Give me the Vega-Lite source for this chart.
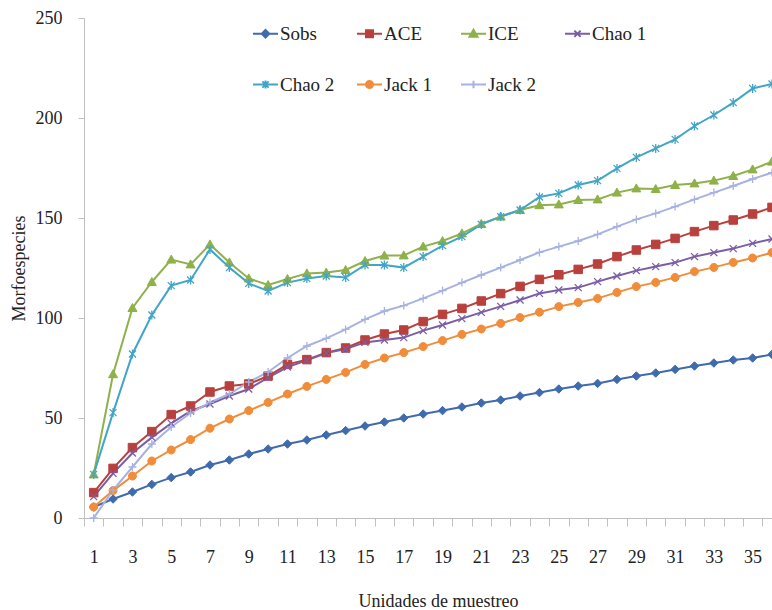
{
  "$schema": "https://vega.github.io/schema/vega-lite/v6.json",
  "autosize": {"type": "none"},
  "padding": {"left": 84, "top": 18, "right": 0, "bottom": 92},
  "width": 688,
  "height": 500,
  "background": "white",
  "config": {
    "view": {"stroke": null},
    "font": "Liberation Serif",
    "axis": {
      "grid": false,
      "domainColor": "#BFBFBF",
      "tickColor": "#BFBFBF",
      "labelFont": "Liberation Serif",
      "titleFont": "Liberation Serif",
      "labelFontSize": 18,
      "titleFontSize": 18,
      "titleFontWeight": "normal",
      "labelColor": "#222222",
      "titleColor": "#222222"
    }
  },
  "data": {
    "values": [
      {"u": 1, "Sobs": 5.5, "ACE": 12.7, "ICE": 21.8, "Chao 1": 10.7, "Chao 2": 21.8, "Jack 1": 5.5, "Jack 2": 0},
      {"u": 2, "Sobs": 9.5, "ACE": 24.8, "ICE": 71.9, "Chao 1": 22.3, "Chao 2": 52.7, "Jack 1": 13.7, "Jack 2": 14},
      {"u": 3, "Sobs": 13, "ACE": 35.2, "ICE": 105, "Chao 1": 32.5, "Chao 2": 82, "Jack 1": 21, "Jack 2": 25.5},
      {"u": 4, "Sobs": 16.8, "ACE": 43.2, "ICE": 118, "Chao 1": 40.3, "Chao 2": 101.5, "Jack 1": 28.5, "Jack 2": 37},
      {"u": 5, "Sobs": 20.2, "ACE": 51.7, "ICE": 129.2, "Chao 1": 47.3, "Chao 2": 116.2, "Jack 1": 34, "Jack 2": 45.5},
      {"u": 6, "Sobs": 23, "ACE": 56, "ICE": 126.8, "Chao 1": 53.5, "Chao 2": 119, "Jack 1": 39.2, "Jack 2": 52.5},
      {"u": 7, "Sobs": 26.5, "ACE": 63, "ICE": 136.8, "Chao 1": 57, "Chao 2": 134.3, "Jack 1": 44.9, "Jack 2": 57.8},
      {"u": 8, "Sobs": 29, "ACE": 66, "ICE": 127.8, "Chao 1": 61, "Chao 2": 125.2, "Jack 1": 49.5, "Jack 2": 62},
      {"u": 9, "Sobs": 32, "ACE": 67, "ICE": 119.8, "Chao 1": 64.5, "Chao 2": 117.3, "Jack 1": 53.7, "Jack 2": 68},
      {"u": 10, "Sobs": 34.5, "ACE": 71, "ICE": 116.5, "Chao 1": 70.2, "Chao 2": 113.5, "Jack 1": 57.8, "Jack 2": 73},
      {"u": 11, "Sobs": 37, "ACE": 76.8, "ICE": 119.5, "Chao 1": 75.5, "Chao 2": 117.7, "Jack 1": 62, "Jack 2": 80},
      {"u": 12, "Sobs": 39, "ACE": 79.2, "ICE": 122.3, "Chao 1": 78.8, "Chao 2": 119.7, "Jack 1": 65.8, "Jack 2": 86},
      {"u": 13, "Sobs": 41.5, "ACE": 82.7, "ICE": 122.7, "Chao 1": 82.5, "Chao 2": 121, "Jack 1": 69.3, "Jack 2": 89.8},
      {"u": 14, "Sobs": 43.7, "ACE": 85, "ICE": 124, "Chao 1": 84.5, "Chao 2": 120.3, "Jack 1": 72.8, "Jack 2": 94.3},
      {"u": 15, "Sobs": 46, "ACE": 89, "ICE": 128.5, "Chao 1": 87.8, "Chao 2": 126.5, "Jack 1": 76.8, "Jack 2": 99.3},
      {"u": 16, "Sobs": 48, "ACE": 92, "ICE": 131.2, "Chao 1": 89, "Chao 2": 126.5, "Jack 1": 80, "Jack 2": 103.5},
      {"u": 17, "Sobs": 50, "ACE": 94, "ICE": 131.3, "Chao 1": 90.2, "Chao 2": 125.2, "Jack 1": 82.7, "Jack 2": 106.2},
      {"u": 18, "Sobs": 52, "ACE": 98.2, "ICE": 135.7, "Chao 1": 93.7, "Chao 2": 130.7, "Jack 1": 85.7, "Jack 2": 109.8},
      {"u": 19, "Sobs": 53.7, "ACE": 101.8, "ICE": 138.5, "Chao 1": 96.5, "Chao 2": 136.2, "Jack 1": 88.7, "Jack 2": 113.7},
      {"u": 20, "Sobs": 55.5, "ACE": 104.8, "ICE": 142.3, "Chao 1": 99.7, "Chao 2": 140.7, "Jack 1": 91.8, "Jack 2": 117.7},
      {"u": 21, "Sobs": 57.5, "ACE": 108.5, "ICE": 147, "Chao 1": 102.8, "Chao 2": 146.8, "Jack 1": 94.5, "Jack 2": 121.5},
      {"u": 22, "Sobs": 59, "ACE": 112.2, "ICE": 150.7, "Chao 1": 105.8, "Chao 2": 150.7, "Jack 1": 97.3, "Jack 2": 125.2},
      {"u": 23, "Sobs": 61, "ACE": 115.8, "ICE": 154, "Chao 1": 109, "Chao 2": 154, "Jack 1": 100.2, "Jack 2": 129},
      {"u": 24, "Sobs": 62.7, "ACE": 119.3, "ICE": 156.4, "Chao 1": 112.3, "Chao 2": 160.5, "Jack 1": 102.9, "Jack 2": 132.8},
      {"u": 25, "Sobs": 64.5, "ACE": 121.6, "ICE": 156.8, "Chao 1": 114, "Chao 2": 162.3, "Jack 1": 105.7, "Jack 2": 135.7},
      {"u": 26, "Sobs": 66, "ACE": 124.3, "ICE": 159, "Chao 1": 115.2, "Chao 2": 166.5, "Jack 1": 107.8, "Jack 2": 138.5},
      {"u": 27, "Sobs": 67.3, "ACE": 127, "ICE": 159.3, "Chao 1": 118.2, "Chao 2": 168.7, "Jack 1": 109.8, "Jack 2": 141.8},
      {"u": 28, "Sobs": 69.3, "ACE": 130.7, "ICE": 162.7, "Chao 1": 121, "Chao 2": 174.8, "Jack 1": 112.8, "Jack 2": 145.7},
      {"u": 29, "Sobs": 71, "ACE": 134, "ICE": 164.8, "Chao 1": 123.7, "Chao 2": 180.3, "Jack 1": 115.7, "Jack 2": 149.3},
      {"u": 30, "Sobs": 72.5, "ACE": 136.8, "ICE": 164.5, "Chao 1": 125.7, "Chao 2": 184.8, "Jack 1": 117.8, "Jack 2": 152.3},
      {"u": 31, "Sobs": 74.3, "ACE": 139.8, "ICE": 166.5, "Chao 1": 127.7, "Chao 2": 189.3, "Jack 1": 120.3, "Jack 2": 155.7},
      {"u": 32, "Sobs": 76, "ACE": 143.2, "ICE": 167.3, "Chao 1": 130.7, "Chao 2": 196, "Jack 1": 123.2, "Jack 2": 159.3},
      {"u": 33, "Sobs": 77.5, "ACE": 146.2, "ICE": 168.7, "Chao 1": 132.7, "Chao 2": 201.5, "Jack 1": 125.3, "Jack 2": 162.7},
      {"u": 34, "Sobs": 79, "ACE": 149, "ICE": 171, "Chao 1": 134.7, "Chao 2": 207.7, "Jack 1": 127.8, "Jack 2": 166},
      {"u": 35, "Sobs": 80, "ACE": 152, "ICE": 174.3, "Chao 1": 137.3, "Chao 2": 214.8, "Jack 1": 130, "Jack 2": 169.5},
      {"u": 36, "Sobs": 81.8, "ACE": 155.3, "ICE": 178.2, "Chao 1": 139.5, "Chao 2": 217, "Jack 1": 132.7, "Jack 2": 172.7}
    ]
  },
  "transform": [
    {"fold": ["Sobs", "ACE", "ICE", "Chao 1", "Chao 2", "Jack 1", "Jack 2"], "as": ["series", "value"]}
  ],
  "encoding": {
    "x": {
      "field": "u",
      "type": "quantitative",
      "scale": {"domain": [0.5, 36], "nice": false, "zero": false},
      "axis": {
        "values": [1,2,3,4,5,6,7,8,9,10,11,12,13,14,15,16,17,18,19,20,21,22,23,24,25,26,27,28,29,30,31,32,33,34,35,36],
        "tickOffset": -9.69,
        "labelOffset": 9.69,
        "labelExpr": "datum.value % 2 === 1 ? datum.label : ''",
        "labelFlush": false,
        "labelOverlap": false,
        "tickSize": 8,
        "labelPadding": 22,
        "title": "Unidades de muestreo",
        "titlePadding": 26,
        "titleX": 354
      }
    },
    "y": {
      "field": "value",
      "type": "quantitative",
      "scale": {"domain": [0, 250], "nice": false},
      "axis": {
        "values": [0, 50, 100, 150, 200, 250],
        "tickSize": 6,
        "labelPadding": 16,
        "title": "Morfoespecies",
        "titlePadding": 7
      }
    },
    "color": {
      "field": "series",
      "type": "nominal",
      "scale": {
        "domain": ["Sobs", "ACE", "ICE", "Chao 1", "Chao 2", "Jack 1", "Jack 2"],
        "range": ["#3F6BAE", "#B8403D", "#8FB14A", "#7B5DA6", "#42A5C6", "#F08C3A", "#A7B2E0"]
      },
      "legend": {
        "title": null,
        "orient": "none",
        "legendX": 168,
        "legendY": 2,
        "direction": "horizontal",
        "columns": 4,
        "gridAlign": "all",
        "columnPadding": 18,
        "rowPadding": 27,
        "padding": 0,
        "symbolSize": 625,
        "symbolStrokeWidth": 2,
        "labelOffset": 1,
        "labelFont": "Liberation Serif",
        "labelFontSize": 19,
        "labelColor": "#222222",
        "labelLimit": 200,
        "encode": {
          "symbols": {
            "update": {
              "shape": {"signal": "datum.value === 'Sobs' ? 'M-1,0H1M0,-0.3L0.3,0L0,0.3L-0.3,0Z' : datum.value === 'ACE' ? 'M-1,0H1M-0.28,-0.28H0.28V0.28H-0.28Z' : datum.value === 'ICE' ? 'M-1,0H1M0,-0.32L0.32,0.24H-0.32Z' : datum.value === 'Chao 1' ? 'M-1,0H1M-0.25,-0.25L0.25,0.25M-0.25,0.25L0.25,-0.25' : datum.value === 'Chao 2' ? 'M-1,0H1M-0.25,-0.25L0.25,0.25M-0.25,0.25L0.25,-0.25M0,-0.32V0.32' : datum.value === 'Jack 1' ? 'M-1,0H1M-0.28,0A0.28,0.28,0,1,0,0.28,0A0.28,0.28,0,1,0,-0.28,0Z' : 'M-1,0H1M0,-0.3V0.3'"},
              "fill": {"signal": "scale('color', datum.value)"},
              "stroke": {"signal": "scale('color', datum.value)"},
              "strokeWidth": {"value": 2},
              "size": {"value": 625},
              "opacity": {"value": 1}
            }
          }
        }
      }
    }
  },
  "layer": [
    {"mark": {"type": "line", "strokeWidth": 2}},
    {
      "transform": [{"filter": "datum.series === 'Sobs'"}],
      "mark": {"type": "point", "filled": true, "size": 100, "opacity": 1, "strokeWidth": 1, "stroke": "#3F6BAE", "shape": "M0,-0.85L0.85,0L0,0.85L-0.85,0Z"}
    },
    {
      "transform": [{"filter": "datum.series === 'ACE'"}],
      "mark": {"type": "point", "filled": true, "size": 100, "opacity": 1, "strokeWidth": 1, "stroke": "#B8403D", "shape": "M-0.85,-0.85H0.85V0.85H-0.85Z"}
    },
    {
      "transform": [{"filter": "datum.series === 'ICE'"}],
      "mark": {"type": "point", "filled": true, "size": 100, "opacity": 1, "strokeWidth": 1, "stroke": "#8FB14A", "shape": "M0,-0.9L0.9,0.7H-0.9Z"}
    },
    {
      "transform": [{"filter": "datum.series === 'Chao 1'"}],
      "mark": {"type": "point", "filled": true, "size": 100, "opacity": 1, "strokeWidth": 1.3, "stroke": "#7B5DA6", "shape": "M-0.7,-0.7L0.7,0.7M-0.7,0.7L0.7,-0.7"}
    },
    {
      "transform": [{"filter": "datum.series === 'Chao 2'"}],
      "mark": {"type": "point", "filled": true, "size": 100, "opacity": 1, "strokeWidth": 1.3, "stroke": "#42A5C6", "shape": "M-0.7,-0.7L0.7,0.7M-0.7,0.7L0.7,-0.7M0,-0.9V0.9"}
    },
    {
      "transform": [{"filter": "datum.series === 'Jack 1'"}],
      "mark": {"type": "point", "filled": true, "size": 100, "opacity": 1, "strokeWidth": 1, "stroke": "#F08C3A", "shape": "M-0.8,0A0.8,0.8,0,1,0,0.8,0A0.8,0.8,0,1,0,-0.8,0Z"}
    },
    {
      "transform": [{"filter": "datum.series === 'Jack 2'"}],
      "mark": {"type": "point", "filled": true, "size": 100, "opacity": 1, "strokeWidth": 1.3, "stroke": "#A7B2E0", "shape": "M-0.8,0H0.8M0,-0.8V0.8"}
    }
  ]
}
